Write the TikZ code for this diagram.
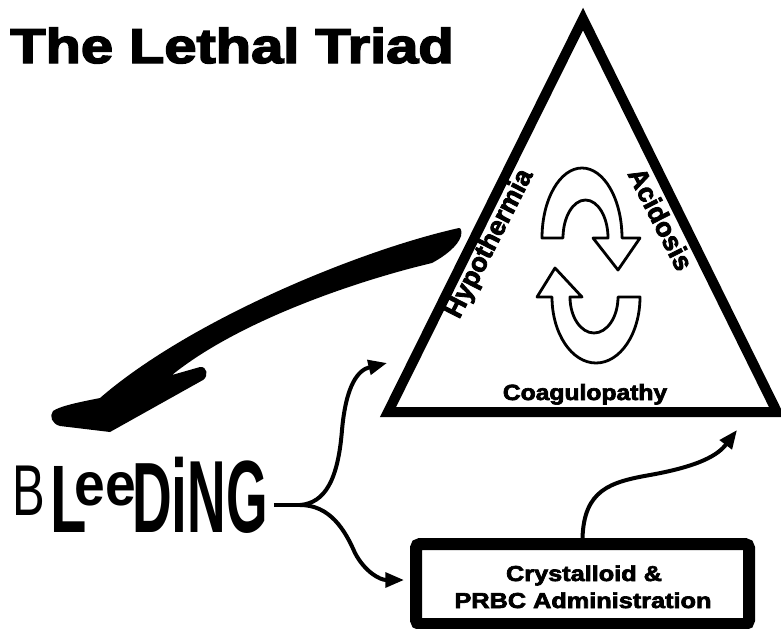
\documentclass[tikz,border=0pt]{standalone}
\usepackage{fontspec}
\setmainfont{Liberation Sans}
\newfontfamily\blackfont{Liberation Sans}[FakeBold=3]
\usetikzlibrary{arrows.meta}
\begin{document}
\begin{tikzpicture}[x=0.75pt,y=-0.75pt,
  conn/.style={line width=3pt,-{Triangle[length=14pt,width=11pt]}},
  cyc/.style={draw=black,fill=white,line width=2.1pt,line join=round},
  sidelbl/.style={font=\blackfont\bfseries\fontsize{20}{22}\selectfont,inner sep=0pt},
  boxtext/.style={anchor=base,inner sep=0pt,font=\blackfont\bfseries\fontsize{16.2}{18}\selectfont}]
\useasboundingbox (0,0) rectangle (781,628);
\fill[white] (0,0) rectangle (781,628);

% title
\node[anchor=base west,inner sep=0pt] (title) at (10,63)
  {\scalebox{1.18}[1]{\blackfont\bfseries\fontsize{36.75}{40}\selectfont The Lethal Triad}};

% triangle
\coordinate (apex) at (583,19);
\coordinate (bl) at (388,412);
\coordinate (br) at (777,412);
\draw[line width=7.5pt,line join=miter] (apex) -- (bl) -- (br) -- cycle;

\node[sidelbl,rotate=63] (hypo) at (490,244) {Hypothermia};
\node[sidelbl,rotate=-63] (acid) at (661,219) {Acidosis};
\node[anchor=base,inner sep=0pt] (coag) at (585,400)
  {\scalebox{1.12}[1]{\blackfont\bfseries\fontsize{16.5}{20}\selectfont Coagulopathy}};

% cycle arrows
\draw[cyc] (542,238) arc[start angle=180,end angle=360,x radius=40,y radius=70]
  -- (640,238) -- (618,270) -- (593,238) -- (608,238)
  arc[start angle=0,end angle=-180,x radius=22.5,y radius=38] -- cycle;
\draw[cyc] (640,297) arc[start angle=0,end angle=180,x radius=44,y radius=66]
  -- (537,297) -- (555,268) -- (582,297) -- (570,297)
  arc[start angle=180,end angle=0,x radius=24,y radius=36] -- cycle;

% big brush arrow
\fill[line join=round] (459,228) .. controls (360,250) and (190,320) .. (100,398)
  .. controls (80,402) and (60,406) .. (53,411)
  .. controls (49,416) and (52,424) .. (60,426)
  -- (110,432) -- (203,380)
  .. controls (209,376) and (207,366) .. (200,367)
  -- (172,375) .. controls (240,320) and (360,280) .. (432,263)
  .. controls (445,256) and (458,246) .. (461,236) .. controls (462,231) and (461,228) .. (459,228) -- cycle;

% bleeding
\node[anchor=base west,inner sep=0pt] (bleed) at (12,532) {%
\raisebox{12.75pt}{\scalebox{0.68}[1]{\fontsize{54}{60}\selectfont B}}%
\kern4pt\scalebox{0.62}[1]{\fontsize{72}{80}\selectfont\bfseries L}%
\kern-9pt\raisebox{20pt}{\scalebox{0.9}[1]{\fontsize{46}{50}\selectfont\bfseries ee}}%
\kern-3pt\scalebox{0.55}[1]{\fontsize{75}{80}\selectfont\bfseries D}%
\scalebox{0.55}[1]{\fontsize{78}{80}\selectfont\bfseries i}%
\scalebox{0.52}[1]{\fontsize{77}{80}\selectfont\bfseries NG}};

% box
\node[draw,line width=9pt,rounded corners=3pt,minimum width=249.75pt,minimum height=60pt,inner sep=0pt] (box) at (582.5,584) {};
\node[boxtext] (boxl1) at (584,581) {\scalebox{1.17}[1]{Crystalloid \&}};
\node[boxtext] (boxl2) at (583,608) {\scalebox{1.17}[1]{PRBC Administration}};

% connectors
\coordinate (fork) at (300,505);
\coordinate (toTri) at (387,363);
\coordinate (toBox) at (404,580);
\coordinate (toTri2) at (737,430);
\draw[line width=3pt] (fork -| bleed.east) ++(6,0) -- (fork);
\draw[conn] (fork) .. controls (325,503) and (338,480) .. (342,430)
  .. controls (346,385) and (358,370) .. (toTri);
\draw[conn] (fork) .. controls (330,505) and (345,530) .. (355,553)
  .. controls (365,572) and (380,580) .. (toBox);
\draw[conn] (box.north) .. controls (584,490) and (610,482) .. (650,475)
  .. controls (700,466) and (718,455) .. (toTri2);
\end{tikzpicture}
\end{document}
